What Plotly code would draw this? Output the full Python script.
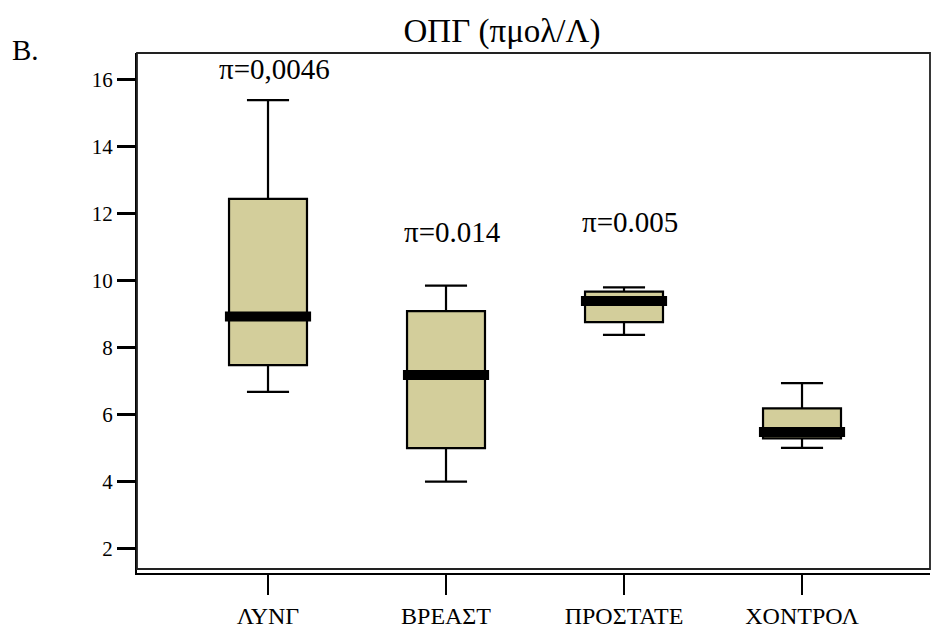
import plotly.graph_objects as go

categories = ["ΛΥΝΓ", "ΒΡΕΑΣΤ", "ΠΡΟΣΤΑΤΕ", "ΧΟΝΤΡΟΛ"]
lower_whisker = [6.67, 3.99, 8.37, 5.00]
q1_vals = [7.47, 4.99, 8.75, 5.28]
median_vals = [8.92, 7.17, 9.38, 5.47]
q3_vals = [12.43, 9.08, 9.66, 6.18]
upper_whisker = [15.38, 9.84, 9.79, 6.93]

p_labels = ["π=0,0046", "π=0.014", "π=0.005"]
p_label_y = [16.31, 11.44, 11.74]

y_ticks = [2, 4, 6, 8, 10, 12, 14, 16]

FONT = "Liberation Serif, Times New Roman, serif"
FILL = "#D3CE9B"

xpos = list(range(len(categories)))
box_width = 0.438
band_half = 0.242

fig = go.Figure()
fig.add_trace(go.Box(
    x=xpos,
    q1=q1_vals, median=median_vals, q3=q3_vals,
    lowerfence=lower_whisker, upperfence=upper_whisker,
    width=box_width, whiskerwidth=0.54,
    fillcolor=FILL, line=dict(color="black", width=2.2),
    boxpoints=False, hoverinfo="skip", showlegend=False,
))

# thick median bands
for xi, m in zip(xpos, median_vals):
    fig.add_trace(go.Scatter(
        x=[xi - band_half, xi + band_half], y=[m, m],
        mode="lines", line=dict(color="black", width=10),
        hoverinfo="skip", showlegend=False,
    ))

for xi, txt, yy in zip(xpos, p_labels, p_label_y):
    fig.add_annotation(x=xi, y=yy, text=txt, showarrow=False, xshift=6,
                       font=dict(family=FONT, size=29, color="black"))

fig.add_annotation(xref="paper", yref="paper", x=-0.141, y=1.006, text="B.",
                   xanchor="center", yanchor="middle",
                   showarrow=False, font=dict(family=FONT, size=29, color="black"))

# inner frame (double bottom line look)
fig.add_shape(type="rect", xref="paper", yref="paper", x0=0, x1=1, y0=0.0077, y1=1,
              line=dict(color="#222", width=1.8), layer="above")

fig.update_layout(
    width=932, height=634,
    margin=dict(l=137, r=2, t=53, b=61),
    paper_bgcolor="white", plot_bgcolor="white",
    title=dict(text="ΟΠΓ (πμολ/Λ)", x=502/932, y=1 - 30/634, xanchor="center", yanchor="middle",
               font=dict(family=FONT, size=33, color="black")),
    font=dict(family=FONT, color="black"),
    showlegend=False,
)
fig.update_xaxes(
    range=[-0.736, 3.719], tickvals=xpos, ticktext=categories,
    showgrid=False, zeroline=False, showline=True, linecolor="black", linewidth=2,
    ticks="outside", ticklen=20, tickwidth=2, tickcolor="black",
    tickfont=dict(family=FONT, size=24, color="black"),
)
fig.update_yaxes(
    range=[1.263, 16.785], tickvals=y_ticks,
    showgrid=False, zeroline=False, showline=True, linecolor="black", linewidth=2,
    ticks="outside", ticklen=18, tickwidth=3, tickcolor="black",
    tickfont=dict(family=FONT, size=21, color="black"),
)

fig.write_html("out.html")
